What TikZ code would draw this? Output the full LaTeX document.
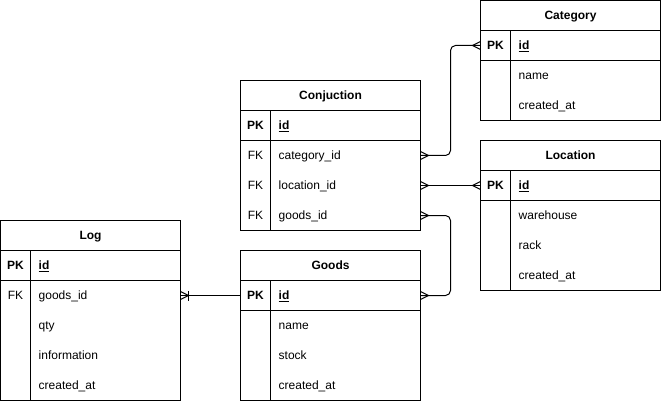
\documentclass[tikz,border=0pt]{standalone}
\usepackage{fontspec}
\setmainfont{Liberation Sans}
\usetikzlibrary{calc}
\tikzset{
  ent/.style={draw, line width=1pt, minimum width=180pt, inner sep=0pt, outer sep=0pt, anchor=north west},
  rowbox/.style={minimum width=180pt, minimum height=30pt, inner sep=0pt, outer sep=0pt, anchor=north west},
  ttl/.style={font=\bfseries\fontsize{12}{14}\selectfont, text height=10.5pt, text depth=2pt, inner sep=0pt},
  fld/.style={font=\fontsize{12}{14}\selectfont, anchor=west, text height=10.5pt, text depth=2pt, inner sep=0pt},
  keytxt/.style={font=\fontsize{12}{14}\selectfont, text height=10.5pt, text depth=2pt, inner sep=0pt},
  sepline/.style={line width=1pt},
  rel/.style={line width=1pt},
  crow/.pic={\draw[rel] (0,4) -- (8,0) -- (0,-4);},
  crowbar/.pic={\draw[rel] (0,4) -- (8,0) -- (0,-4); \draw[rel] (8,5) -- (8,-5);}
}
\begin{document}
\begin{tikzpicture}[x=1pt, y=-1pt]
\useasboundingbox (-0.5,-0.5) rectangle (660.5,400.5);

% ---------- Category ----------
\node[ent, minimum height=120pt] (cat) at (480,0) {};
\draw[sepline] (480,30) -- (660,30);
\draw[sepline] (480,60) -- (660,60);
\draw[sepline] (510,30) -- (510,120);
\node[rowbox] (catpk) at (480,30) {};
\node[ttl] (catT) at (570,15) {Category};
\node[keytxt] (catK) at (495,45) {\textbf{PK}};
\node[fld] (catId) at (518,45) {\textbf{\underline{id}}};
\node[fld] (catF1) at (518,75) {name};
\node[fld] (catF2) at (518,105) {created\_at};

% ---------- Conjuction ----------
\node[ent, minimum height=150pt] (conj) at (240,80) {};
\draw[sepline] (240,110) -- (420,110);
\draw[sepline] (240,140) -- (420,140);
\draw[sepline] (270,110) -- (270,230);
\node[rowbox] (conjpk) at (240,110) {};
\node[rowbox] (conjcat) at (240,140) {};
\node[rowbox] (conjloc) at (240,170) {};
\node[rowbox] (conjgoods) at (240,200) {};
\node[ttl] (conjT) at (330,95) {Conjuction};
\node[keytxt] (conjK) at (255,125) {\textbf{PK}};
\node[fld] (conjId) at (278,125) {\textbf{\underline{id}}};
\node[keytxt] (conjK1) at (255,155) {FK};
\node[fld] (conjF1) at (278,155) {category\_id};
\node[keytxt] (conjK2) at (255,185) {FK};
\node[fld] (conjF2) at (278,185) {location\_id};
\node[keytxt] (conjK3) at (255,215) {FK};
\node[fld] (conjF3) at (278,215) {goods\_id};

% ---------- Location ----------
\node[ent, minimum height=150pt] (loc) at (480,140) {};
\draw[sepline] (480,170) -- (660,170);
\draw[sepline] (480,200) -- (660,200);
\draw[sepline] (510,170) -- (510,290);
\node[rowbox] (locpk) at (480,170) {};
\node[ttl] (locT) at (570,155) {Location};
\node[keytxt] (locK) at (495,185) {\textbf{PK}};
\node[fld] (locId) at (518,185) {\textbf{\underline{id}}};
\node[fld] (locF1) at (518,215) {warehouse};
\node[fld] (locF2) at (518,245) {rack};
\node[fld] (locF3) at (518,275) {created\_at};

% ---------- Log ----------
\node[ent, minimum height=179.5pt] (log) at (0,220) {};
\draw[sepline] (0,250) -- (180,250);
\draw[sepline] (0,280) -- (180,280);
\draw[sepline] (30,250) -- (30,399.5);
\node[rowbox] (logpk) at (0,250) {};
\node[rowbox] (loggoods) at (0,280) {};
\node[ttl] (logT) at (90,235) {Log};
\node[keytxt] (logK) at (15,265) {\textbf{PK}};
\node[fld] (logId) at (38,265) {\textbf{\underline{id}}};
\node[keytxt] (logK1) at (15,295) {FK};
\node[fld] (logF1) at (38,295) {goods\_id};
\node[fld] (logF2) at (38,325) {qty};
\node[fld] (logF3) at (38,355) {information};
\node[fld] (logF4) at (38,385) {created\_at};

% ---------- Goods ----------
\node[ent, minimum height=149.5pt] (goods) at (240,250) {};
\draw[sepline] (240,280) -- (420,280);
\draw[sepline] (240,310) -- (420,310);
\draw[sepline] (270,280) -- (270,399.5);
\node[rowbox] (goodspk) at (240,280) {};
\node[ttl] (goodsT) at (330,265) {Goods};
\node[keytxt] (goodsK) at (255,295) {\textbf{PK}};
\node[fld] (goodsId) at (278,295) {\textbf{\underline{id}}};
\node[fld] (goodsF1) at (278,325) {name};
\node[fld] (goodsF2) at (278,355) {stock};
\node[fld] (goodsF3) at (278,385) {created\_at};

% ---------- Relations ----------
\draw[rel, rounded corners=5pt] (conjcat.east) -- ++(30,0) |- (catpk.west);
\pic at (conjcat.east) {crow};
\pic[xscale=-1] at (catpk.west) {crow};

\draw[rel] (conjloc.east) -- (locpk.west);
\pic at (conjloc.east) {crow};
\pic[xscale=-1] at (locpk.west) {crow};

\draw[rel, rounded corners=5pt] (conjgoods.east) -- ++(30,0) |- (goodspk.east);
\pic at (conjgoods.east) {crow};
\pic at (goodspk.east) {crow};

\draw[rel] (loggoods.east) -- (goodspk.west);
\pic at (loggoods.east) {crowbar};
\end{tikzpicture}
\end{document}
